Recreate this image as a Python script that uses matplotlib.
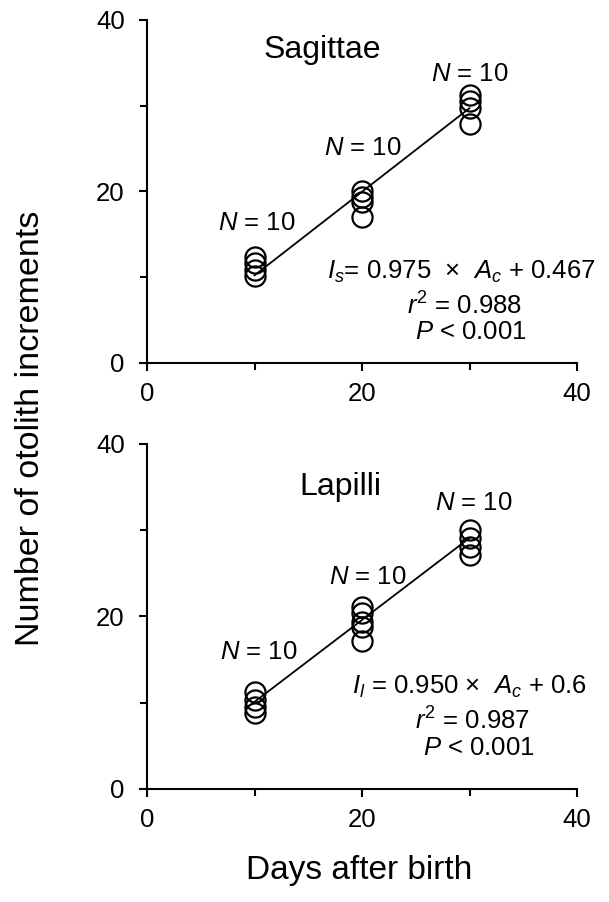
import matplotlib
matplotlib.use('Agg')
import matplotlib.pyplot as plt
from matplotlib.ticker import MultipleLocator

plt.rcParams['font.family'] = ['Liberation Sans', 'DejaVu Sans']
plt.rcParams['mathtext.fontset'] = 'custom'
plt.rcParams['mathtext.rm'] = 'Liberation Sans'
plt.rcParams['mathtext.it'] = 'Liberation Sans:italic'

# Sampling days and increment counts read for each otolith type
days = [10, 20, 30]
sagittae_counts = [[12.4, 11.6, 10.8, 10.1],
                   [20.0, 19.4, 18.8, 17.0],
                   [31.2, 30.5, 29.7, 27.9]]
lapilli_counts = [[11.3, 10.3, 9.5, 8.8],
                  [21.1, 20.4, 19.4, 18.8, 17.1],
                  [30.0, 29.1, 28.1, 27.1]]
sample_sizes = [10, 10, 10]

# Regression fits: increments = slope * age + intercept
sagittae_fit = (0.975, 0.467, 0.988)
lapilli_fit = (0.950, 0.6, 0.987)

FS = 18.5


def draw_panel(ax, counts, fit, title, title_xy, n_xy, eq_text, eq_xy):
    for d, vals in zip(days, counts):
        ax.plot([d] * len(vals), vals, 'o', ms=14.5, mfc='none', mec='black', mew=1.6,
                clip_on=False, zorder=3)
    slope, intercept, r2 = fit
    fx = [days[0], days[-1]]
    ax.plot(fx, [slope * x + intercept for x in fx], color='black', lw=1.3, zorder=4)

    ax.text(title_xy[0], title_xy[1], title, fontsize=23, ha='center', va='center')
    for (tx, ty), n in zip(n_xy, sample_sizes):
        ax.text(tx, ty, r'$N$ = %d' % n, fontsize=FS, ha='center', va='center')

    ex, ey = eq_xy
    ax.text(ex, ey, eq_text, fontsize=FS, ha='center', va='center')
    ax.text(ex + 0.3, ey - 3.9, r'$r^2$ = %.3f' % r2, fontsize=FS, ha='center', va='center')
    ax.text(ex + 0.9, ey - 7.0, r'$P$ < 0.001', fontsize=FS, ha='center', va='center')

    ax.set_xlim(0, 40)
    ax.set_ylim(0, 40)
    ax.xaxis.set_major_locator(MultipleLocator(20))
    ax.xaxis.set_minor_locator(MultipleLocator(10))
    ax.yaxis.set_major_locator(MultipleLocator(20))
    ax.yaxis.set_minor_locator(MultipleLocator(10))
    for side in ['top', 'right']:
        ax.spines[side].set_visible(False)
    for side in ['left', 'bottom']:
        ax.spines[side].set_linewidth(1.5)
    ax.tick_params(which='both', direction='out', width=1.5, labelsize=FS)
    ax.tick_params(which='major', length=6)
    ax.tick_params(which='minor', length=5)
    ax.tick_params(axis='y', pad=10)
    ax.tick_params(axis='x', pad=8)


fig = plt.figure(figsize=(6.09, 9.02), dpi=100)
ax_top = fig.add_axes([0.2414, 0.5976, 0.7061, 0.3803])
ax_bot = fig.add_axes([0.2414, 0.1253, 0.7061, 0.3825])

draw_panel(ax_top, sagittae_counts, sagittae_fit, 'Sagittae', (16.3, 36.5),
           [(10.2, 16.3), (20.1, 25.1), (30.0, 33.7)],
           r'$I_s$= 0.975  $\times$  $A_c$ + 0.467', (29.2, 10.6))
draw_panel(ax_bot, lapilli_counts, lapilli_fit, 'Lapilli', (18.0, 35.0),
           [(10.4, 15.9), (20.5, 24.6), (30.4, 33.2)],
           r'$I_l$ = 0.950 $\times$  $A_c$ + 0.6', (30.0, 11.8))

fig.text(0.05, 0.525, 'Number of otolith increments', fontsize=24.5, rotation=90,
         ha='center', va='center')
fig.text(0.59, 0.035, 'Days after birth', fontsize=24, ha='center', va='center')

fig.savefig('out.png', dpi=100)
